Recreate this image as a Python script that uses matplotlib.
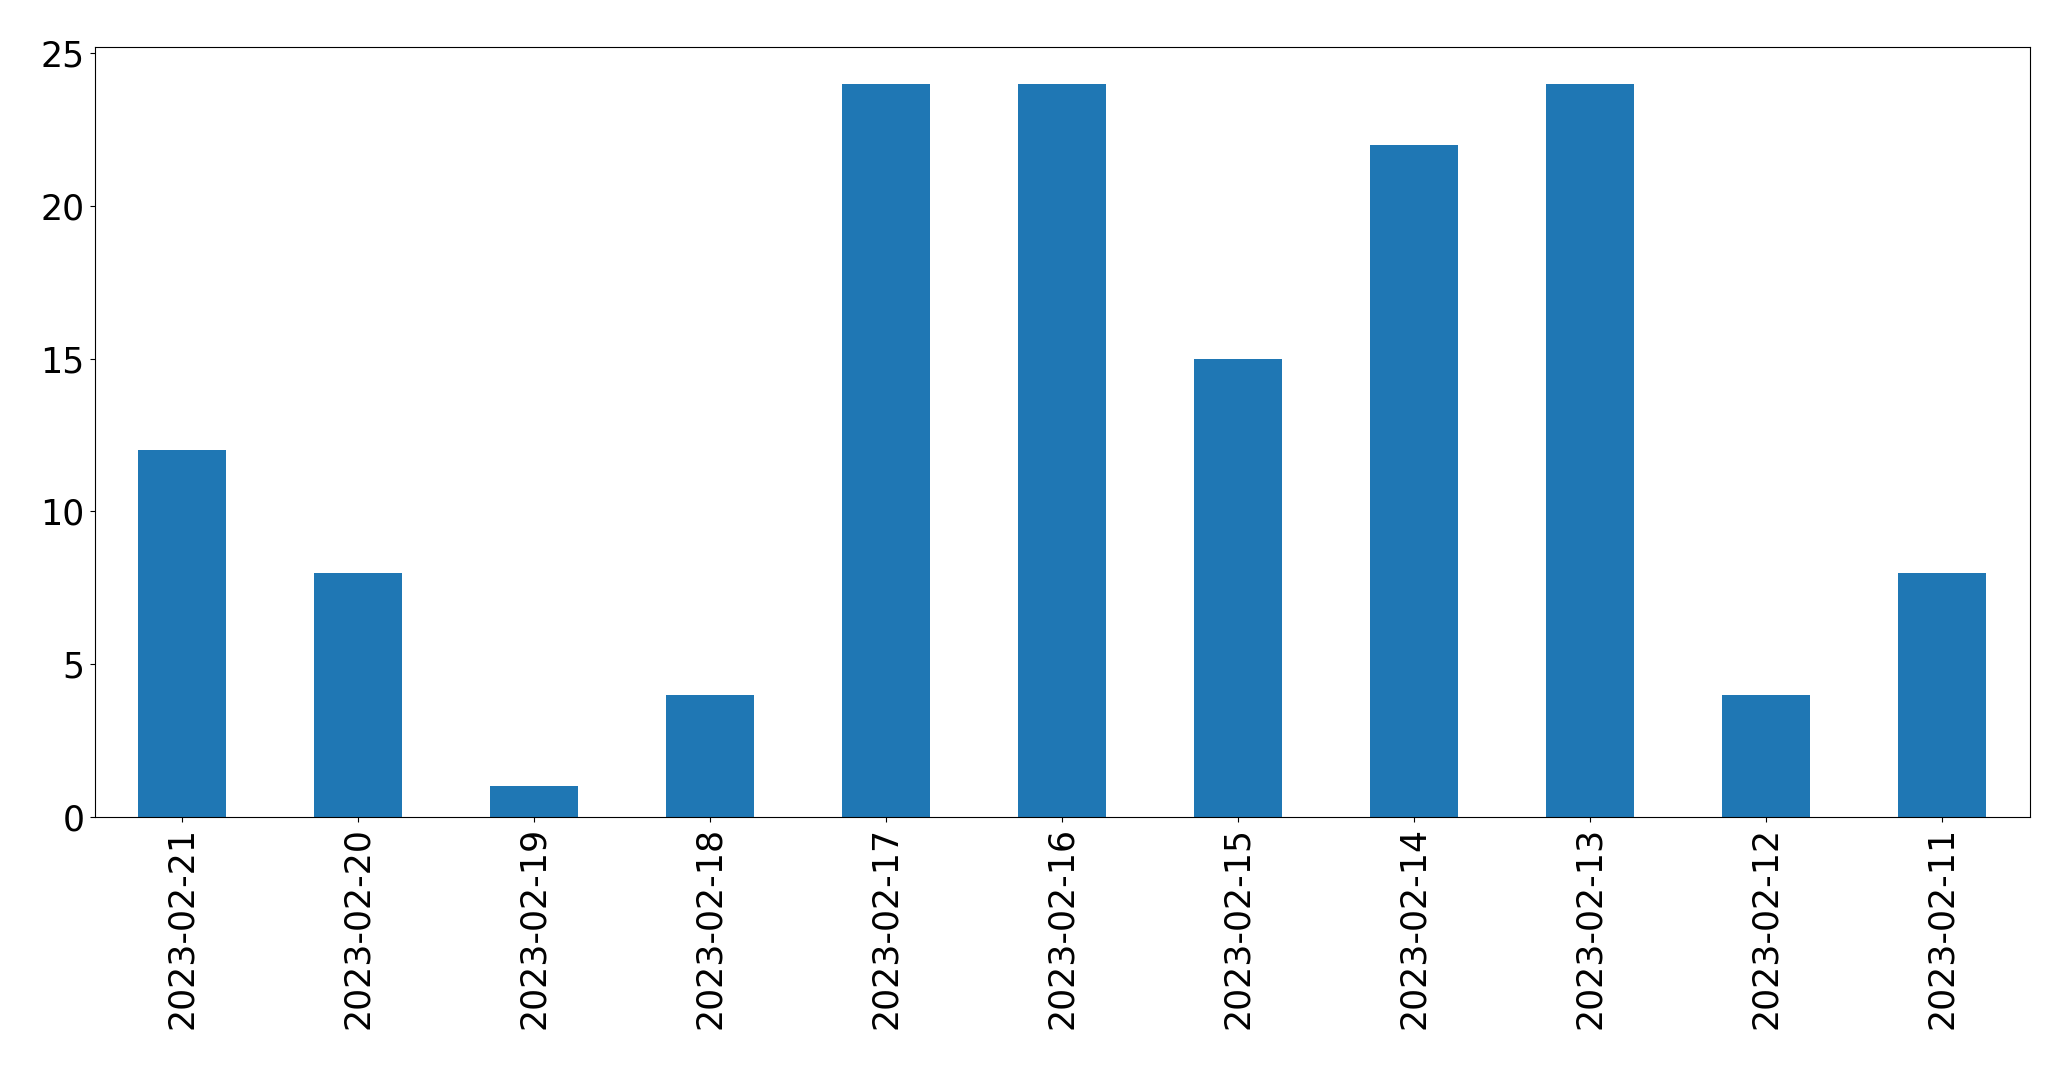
import pandas as pd
import matplotlib
matplotlib.use("Agg")
import matplotlib.pyplot as plt

dates = ["2023-02-21", "2023-02-20", "2023-02-19", "2023-02-18", "2023-02-17",
         "2023-02-16", "2023-02-15", "2023-02-14", "2023-02-13", "2023-02-12",
         "2023-02-11"]
counts = [12, 8, 1, 4, 24, 24, 15, 22, 24, 4, 8]

s = pd.Series(counts, index=dates)

fig = plt.figure(figsize=(20.71, 10.69), dpi=100)
ax = fig.add_axes([94.5 / 2071, 1 - 817 / 1069, (2030 - 94.5) / 2071, (817 - 47) / 1069])
s.plot(kind="bar", ax=ax, color="#1f77b4", width=0.5)
ax.tick_params(axis="both", labelsize=25)
ax.set_ylim(0, 25.2)

fig.savefig("out.png", dpi=100)
